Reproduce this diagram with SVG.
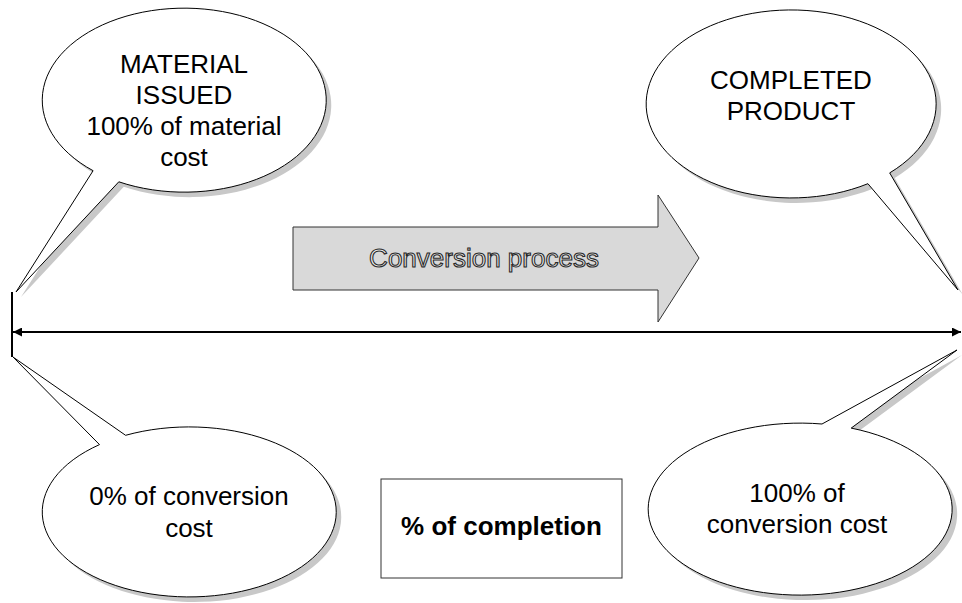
<svg xmlns="http://www.w3.org/2000/svg" width="962" height="603" viewBox="0 0 962 603">
<style>
.bg{fill:#ffffff}
.callout{fill:#ffffff;stroke:#000000;stroke-width:1}
.shadow{fill:#c8c8c8;stroke:none}
.t{font-family:"Liberation Sans",Arial,sans-serif;font-size:26px;fill:#000000;text-anchor:middle}
.tb{font-family:"Liberation Sans",Arial,sans-serif;font-size:26px;font-weight:bold;fill:#000000;text-anchor:middle}
.outl{font-family:"Liberation Sans",Arial,sans-serif;font-size:26px;fill:#f0f0f0;stroke:#2a2a2a;stroke-width:1.1;text-anchor:middle}
.line{stroke:#000000;stroke-width:2;fill:none}
</style>
<defs>
<marker id="ah" viewBox="0 0 10 10" refX="10" refY="5" markerWidth="5.5" markerHeight="4.5" orient="auto-start-reverse" markerUnits="strokeWidth">
<path d="M0,0 L10,5 L0,10 Z" fill="#000000"/>
</marker>
</defs>
<rect class="bg" x="0" y="0" width="962" height="603"/>

<g id="material-issued">
<path class="shadow" transform="translate(5,5)" d="M 93.1 170.7 A 142 92 0 1 1 118.8 181.8 L 16 292 Z"/>
<path class="callout" d="M 93.1 170.7 A 142 92 0 1 1 118.8 181.8 L 16 292 Z"/>
<text class="t" x="184" y="73">MATERIAL</text>
<text class="t" x="184" y="104">ISSUED</text>
<text class="t" x="184" y="135">100% of material</text>
<text class="t" x="184" y="166">cost</text>
</g>

<g id="completed-product">
<path class="shadow" transform="translate(5,5)" d="M 889.7 172.9 A 145 94 0 1 0 867.9 183.7 L 958 290 Z"/>
<path class="callout" d="M 889.7 172.9 A 145 94 0 1 0 867.9 183.7 L 958 290 Z"/>
<text class="t" x="791" y="89">COMPLETED</text>
<text class="t" x="791" y="120">PRODUCT</text>
</g>

<g id="zero-conversion">
<path class="shadow" transform="translate(5,5)" d="M 99.5 444.6 A 147 85 0 1 0 125.6 435.3 L 13 357 Z"/>
<path class="callout" d="M 99.5 444.6 A 147 85 0 1 0 125.6 435.3 L 13 357 Z"/>
<text class="t" x="189" y="505">0% of conversion</text>
<text class="t" x="189" y="537">cost</text>
</g>

<g id="full-conversion">
<path class="shadow" transform="translate(5,5)" d="M 822 424 A 152 86 0 1 0 851.2 428.1 L 957 350 Z"/>
<path class="callout" d="M 822 424 A 152 86 0 1 0 851.2 428.1 L 957 350 Z"/>
<text class="t" x="797" y="502">100% of</text>
<text class="t" x="797" y="533">conversion cost</text>
</g>

<g id="conversion-process">
<path d="M 293 227 L 658 227 L 658 195 L 699 258 L 658 322 L 658 290 L 293 290 Z" fill="#d9d9d9" stroke="#333333" stroke-width="1"/>
<text class="outl" x="484" y="267">Conversion process</text>
</g>

<g id="completion-label">
<rect x="381" y="479" width="241" height="99" fill="#ffffff" stroke="#333333" stroke-width="1"/>
<text class="tb" x="501.5" y="535">% of completion</text>
</g>

<g id="connectors">
<line class="line" x1="12" y1="292" x2="12" y2="357"/>
<line class="line" x1="13" y1="332" x2="961" y2="332" marker-start="url(#ah)" marker-end="url(#ah)"/>
</g>
</svg>
